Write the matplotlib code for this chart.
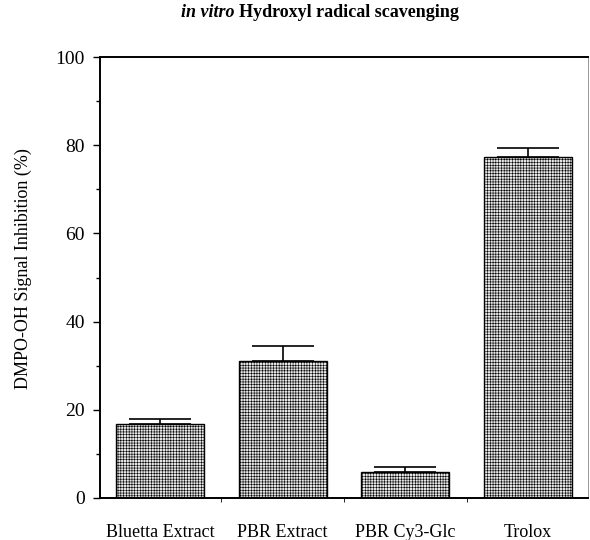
import matplotlib
matplotlib.use("Agg")
import matplotlib.pyplot as plt
import numpy as np

categories = ["Bluetta Extract", "PBR Extract", "PBR Cy3-Glc", "Trolox"]
values = [16.7, 31.0, 5.9, 77.4]
errors = [1.2, 3.4, 1.1, 2.0]
yticks = [0, 20, 40, 60, 80, 100]

plt.rcParams['font.family'] = ['Liberation Serif', 'DejaVu Serif']
plt.rcParams['hatch.linewidth'] = 0.4
plt.rcParams['hatch.color'] = '#444444'

fig = plt.figure(figsize=(5.9, 5.4), dpi=100)
ax = fig.add_axes([0.1695, 0.0778, 0.827, 0.8166])

x = np.arange(len(categories))
ax.bar(x, values, width=0.72, color='#e6e6e6', edgecolor='black',
       linewidth=1.0, hatch='++++++')
ax.errorbar(x, values, yerr=[np.zeros(len(errors)), errors], fmt='none',
            ecolor='black', elinewidth=1.2, capsize=22, capthick=1.2)

ax.set_xlim(-0.49, 3.49)
ax.set_ylim(0, 100)
ax.set_yticks(yticks)
ax.set_yticklabels([str(v) for v in yticks], fontsize=14)
ax.set_yticks(np.arange(10, 100, 20), minor=True)
ax.set_xticks(x)
ax.set_xticklabels(categories, fontsize=13)
ax.set_xticks([0.5, 1.5, 2.5], minor=True)
ax.tick_params(axis='x', which='major', length=0, pad=19)
ax.tick_params(axis='x', which='minor', length=3, direction='out')
ax.tick_params(axis='y', which='major', length=5, width=1.0, direction='out', pad=6)
ax.tick_params(axis='y', which='minor', length=3, width=1.0, direction='out')

for s in ['left', 'bottom', 'top']:
    ax.spines[s].set_linewidth(1.4)
ax.spines['right'].set_linewidth(0.6)
ax.spines['right'].set_color('#888888')

ax.set_ylabel("DMPO-OH Signal Inhibition (%)", fontsize=13)
ax.yaxis.set_label_coords(-0.14, 0.52)

title_y = 0.977
fig.text(0.397, title_y, r"in vitro", fontsize=13, fontweight='bold',
         fontstyle='italic', ha='right', va='center')
fig.text(0.405, title_y, "Hydroxyl radical scavenging", fontsize=13,
         fontweight='bold', ha='left', va='center')

fig.savefig("out.png", dpi=100)
